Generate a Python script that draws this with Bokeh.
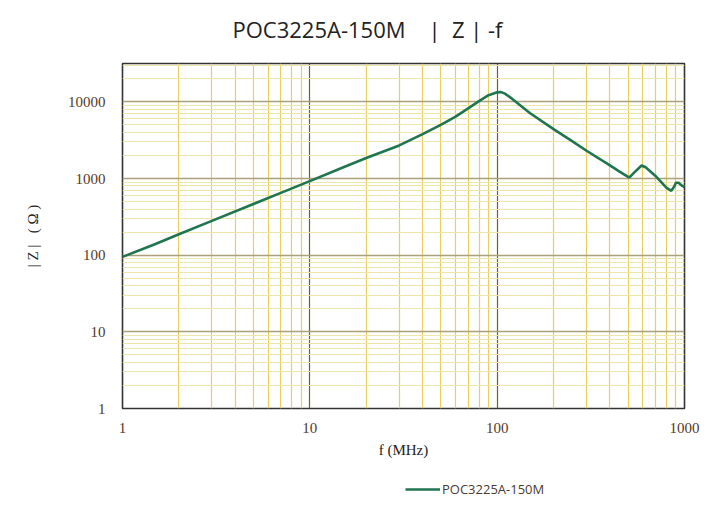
from bokeh.plotting import figure
from bokeh.layouts import column
from bokeh.models import FixedTicker, Legend, LegendItem, Range1d, NumeralTickFormatter, Title
from bokeh.embed import file_html
from bokeh.resources import INLINE

# Frequency (MHz) and impedance |Z| (ohm)
freq = [1, 1.5, 2, 3, 5, 7, 10, 15, 20, 30, 40, 50, 60, 70, 80, 90, 100, 105, 110,
        120, 150, 200, 250, 300, 400, 450, 500, 510, 540, 590, 620, 700, 800, 850,
        880, 900, 930, 960, 1000]
impedance = [95, 140, 187, 280, 465, 650, 925, 1390, 1850, 2700, 3800, 5000, 6400,
             8200, 10200, 12200, 13300, 13400, 12800, 11000, 7100, 4400, 3100, 2300,
             1480, 1230, 1050, 1040, 1200, 1480, 1400, 1080, 760, 690, 780, 880, 880,
             820, 770]

x_ticks = [1, 10, 100, 1000]
y_ticks = [1, 10, 100, 1000, 10000]
series_name = "POC3225A-150M"
NB = "\u00a0"
title_text = "POC3225A-150M" + NB * 4 + "|" + NB * 2 + "Z" + NB + "|" + NB + "-f"
line_color = "#1f7550"

p = figure(frame_width=562, frame_height=345, x_axis_type="log", y_axis_type="log",
           x_range=Range1d(1, 1000), y_range=Range1d(1, 31623),
           output_backend="svg", toolbar_location=None, title_location=None,
           min_border_left=122, min_border_right=28, min_border_top=63,
           min_border_bottom=62, background_fill_color="white",
           border_fill_color="white")

# spacer between title and frame, then the title itself
spacer = Title(text=NB, text_font_size="2px", standoff=16)
p.add_layout(spacer, "above")
main_title = Title(text=title_text, align="left", offset=110, text_font="Open Sans",
                   text_font_size="22px", text_font_style="normal",
                   text_color="#222222", standoff=0)
p.add_layout(main_title, "above")

p.outline_line_color = "#333333"
p.outline_line_width = 1.6

# axes
for ax in (p.xaxis, p.yaxis):
    ax.axis_line_color = None
    ax.major_tick_line_color = None
    ax.minor_tick_line_color = None
    ax.formatter = NumeralTickFormatter(format="0")
    ax.major_label_text_font = "Liberation Serif"
    ax.major_label_text_font_size = "15px"
    ax.major_label_text_font_style = "normal"
    ax.major_label_text_color = "#553826"
    ax.axis_label_text_font = "Liberation Serif"
    ax.axis_label_text_font_size = "15px"
    ax.axis_label_text_font_style = "normal"
    ax.axis_label_text_color = "#222222"

p.xaxis.ticker = FixedTicker(ticks=x_ticks, minor_ticks=[m * d for d in [1, 10, 100] for m in range(2, 10)])
p.yaxis.ticker = FixedTicker(ticks=y_ticks, minor_ticks=[m * d for d in [1, 10, 100, 1000, 10000] for m in range(2, 10)])
p.xaxis.major_label_standoff = 8
p.yaxis.major_label_standoff = 11
p.xaxis.axis_label = "f (MHz)"
p.yaxis.axis_label = "|" + NB + "Z" + NB + "|" + NB * 3 + "(" + NB + "Ω" + NB + ")"
p.xaxis.axis_label_standoff = 6
p.yaxis.axis_label_standoff = 24

# grid
p.xgrid.grid_line_color = "#6e5e2e"
p.xgrid.grid_line_width = 1.2
p.xgrid.minor_grid_line_color = "#e6cf5a"
p.xgrid.minor_grid_line_width = 1.2
p.ygrid.grid_line_color = "#aaa07a"
p.ygrid.grid_line_width = 1.5
p.ygrid.minor_grid_line_color = "#f0e5a8"
p.ygrid.minor_grid_line_width = 1.0

p.line(freq, impedance, line_color=line_color, line_width=2.6)

# legend strip below the chart (series drawn out of view so only the legend shows)
p2 = figure(width=712, height=37, x_range=Range1d(0, 1), y_range=Range1d(-2, -1),
            output_backend="svg", toolbar_location=None,
            x_axis_location=None, y_axis_location=None, min_border=0,
            min_border_left=0, min_border_right=0, min_border_top=0, min_border_bottom=0,
            background_fill_color="white", border_fill_color="white")
p2.outline_line_color = None
p2.grid.visible = False
r2 = p2.line(freq, impedance, line_color=line_color, line_width=2.6)
legend = Legend(items=[LegendItem(label=series_name, renderers=[r2])],
                orientation="horizontal", location=(283, 8),
                border_line_color=None, background_fill_alpha=0,
                label_text_font="Open Sans", label_text_font_size="13px",
                label_text_color="#4a3b30", glyph_width=35, margin=0,
                padding=0, label_standoff=2)
p2.add_layout(legend, "center")

layout = column(p, p2, spacing=0)
open("out.html", "w").write(file_html(layout, INLINE))
